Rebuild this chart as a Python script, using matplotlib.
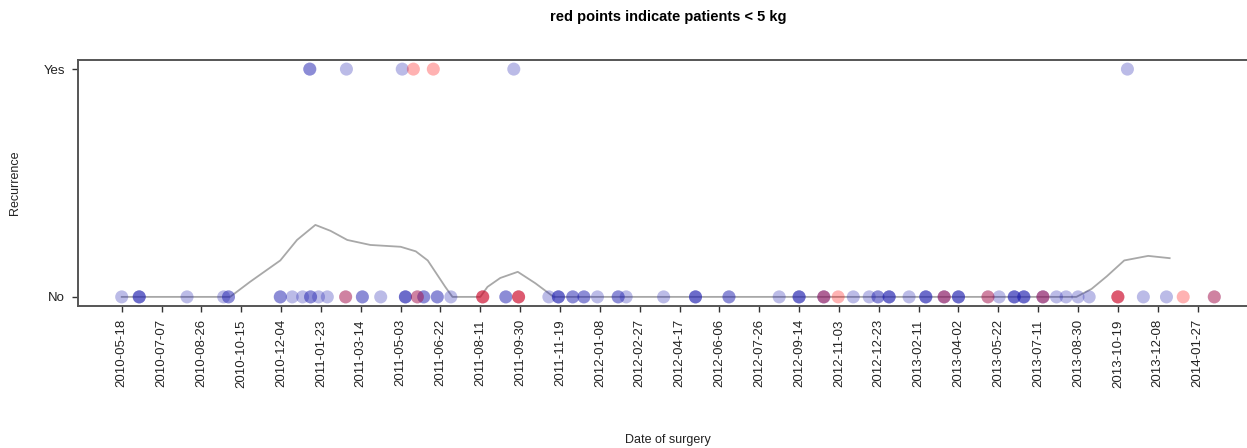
import matplotlib
matplotlib.use("Agg")
import matplotlib.pyplot as plt
import matplotlib.dates as mdates
import numpy as np
import pandas as pd

plt.rcParams['font.family'] = ['Liberation Sans', 'DejaVu Sans']

# ---- data ----
# surgery dates of patients >= 5 kg (blue) without recurrence
blue_no = [
    "2010-05-18", "2010-06-09", "2010-06-09", "2010-06-09", "2010-08-08",
    "2010-09-23", "2010-09-29", "2010-09-29", "2010-12-03", "2010-12-03",
    "2010-12-18", "2010-12-31", "2011-01-10", "2011-01-10", "2011-01-20",
    "2011-01-31", "2011-02-23", "2011-03-16", "2011-03-16", "2011-04-08",
    "2011-05-09", "2011-05-09", "2011-05-09", "2011-05-24", "2011-06-01",
    "2011-06-01", "2011-06-18", "2011-06-18", "2011-07-05", "2011-08-14",
    "2011-09-12", "2011-09-12", "2011-09-28", "2011-11-05", "2011-11-17",
    "2011-11-17", "2011-11-17", "2011-12-05", "2011-12-05", "2011-12-19",
    "2011-12-19", "2012-01-05", "2012-01-31", "2012-01-31", "2012-02-10",
    "2012-03-28", "2012-05-07", "2012-05-07", "2012-05-07", "2012-06-18",
    "2012-06-18", "2012-08-20", "2012-09-14", "2012-09-14", "2012-09-14",
    "2012-10-15", "2012-10-15", "2012-11-21", "2012-12-11", "2012-12-22",
    "2012-12-22", "2013-01-05", "2013-01-05", "2013-01-05", "2013-01-30",
    "2013-02-20", "2013-02-20", "2013-02-20", "2013-03-15", "2013-03-15",
    "2013-04-02", "2013-04-02", "2013-04-02", "2013-05-09", "2013-05-23",
    "2013-06-11", "2013-06-11", "2013-06-11", "2013-06-23", "2013-06-23",
    "2013-06-23", "2013-07-17", "2013-07-17", "2013-08-03", "2013-08-15",
    "2013-08-30", "2013-09-13", "2013-10-19", "2013-11-20", "2013-12-19",
    "2014-02-17",
]
# surgery dates of patients < 5 kg (red) without recurrence
red_no = [
    "2011-02-23", "2011-05-24", "2011-08-14", "2011-08-14", "2011-09-28",
    "2011-09-28", "2012-10-15", "2012-11-02", "2013-03-15", "2013-05-09",
    "2013-07-17", "2013-10-19", "2013-10-19", "2014-01-09", "2014-02-17",
]
# with recurrence
blue_yes = ["2011-01-09", "2011-01-09", "2011-02-24", "2011-05-05",
            "2011-09-22", "2013-10-31"]
red_yes = ["2011-05-19", "2011-06-13"]

# smoothed recurrence rate (grey curve)
smooth_dates = [
    "2010-05-18", "2010-10-01", "2010-10-26", "2010-12-03", "2010-12-24",
    "2011-01-16", "2011-02-04", "2011-02-25", "2011-03-26", "2011-05-03",
    "2011-05-22", "2011-06-06", "2011-06-28", "2011-07-07", "2011-08-11",
    "2011-08-20", "2011-09-05", "2011-09-27", "2011-10-19", "2011-11-11",
    "2013-08-28", "2013-09-16", "2013-10-05", "2013-10-27", "2013-11-26",
    "2013-12-23",
]
smooth_vals = [
    0.0, 0.0, 0.066, 0.16, 0.25,
    0.316, 0.29, 0.25, 0.228, 0.22,
    0.20, 0.16, 0.044, 0.0, 0.0,
    0.044, 0.083, 0.11, 0.06, 0.0,
    0.0, 0.035, 0.09, 0.16, 0.18,
    0.17,
]

tick_labels = [
    "2010-05-18", "2010-07-07", "2010-08-26", "2010-10-15", "2010-12-04",
    "2011-01-23", "2011-03-14", "2011-05-03", "2011-06-22", "2011-08-11",
    "2011-09-30", "2011-11-19", "2012-01-08", "2012-02-27", "2012-04-17",
    "2012-06-06", "2012-07-26", "2012-09-14", "2012-11-03", "2012-12-23",
    "2013-02-11", "2013-04-02", "2013-05-22", "2013-07-11", "2013-08-30",
    "2013-10-19", "2013-12-08", "2014-01-27",
]
y_labels = ["No", "Yes"]

# ---- figure ----
W, H = 1247, 448
fig = plt.figure(figsize=(W / 100, H / 100), dpi=100)
ax = fig.add_axes([78 / W, (H - 306) / H, 1180 / W, 246 / H])

def d(lst):
    return mdates.date2num(pd.to_datetime(lst).to_pydatetime())

all_dates = d(blue_no + red_no + blue_yes + red_yes)
dmin, dmax = all_dates.min(), all_dates.max()
rng = dmax - dmin
ax.set_xlim(dmin - 0.04 * rng, dmax + 0.04 * rng)
ax.set_ylim(-0.04, 1.04)

ax.plot(d(smooth_dates), smooth_vals, color="#a8a8a8", lw=1.3, zorder=1)

blue_c = "#2020b0"
red_c = "#ff0000"
ms = 88
for dates, yv, col in [(blue_no, 0, blue_c), (red_no, 0, red_c),
                       (blue_yes, 1, blue_c), (red_yes, 1, red_c)]:
    ax.scatter(d(dates), np.full(len(dates), yv), s=ms, color=col, alpha=0.3,
               edgecolors="none", zorder=2)

ax.set_xticks(d(tick_labels))
ax.set_xticklabels(tick_labels, rotation=90, fontsize=9.5, color="#222222")
ax.set_yticks([0, 1])
ax.set_yticklabels(y_labels, fontsize=9.5, color="#222222")
ax.tick_params(axis="both", direction="out", length=4.5, width=1.0,
               color="#333333", pad=5)

for side in ["left", "top", "bottom"]:
    ax.spines[side].set_color("#555555")
    ax.spines[side].set_linewidth(1.4)
ax.spines["right"].set_visible(False)

ax.set_ylabel("Recurrence", fontsize=9, color="#222222")
ax.set_xlabel("Date of surgery", fontsize=9, color="#222222")
ax.yaxis.set_label_coords(-57 / 1180, 0.5)
ax.xaxis.set_label_coords(0.5, -128 / 246)
ax.set_title("red points indicate patients < 5 kg", fontsize=10.5,
             fontweight="bold", pad=28)

fig.savefig("out.png", dpi=100, facecolor="white")
